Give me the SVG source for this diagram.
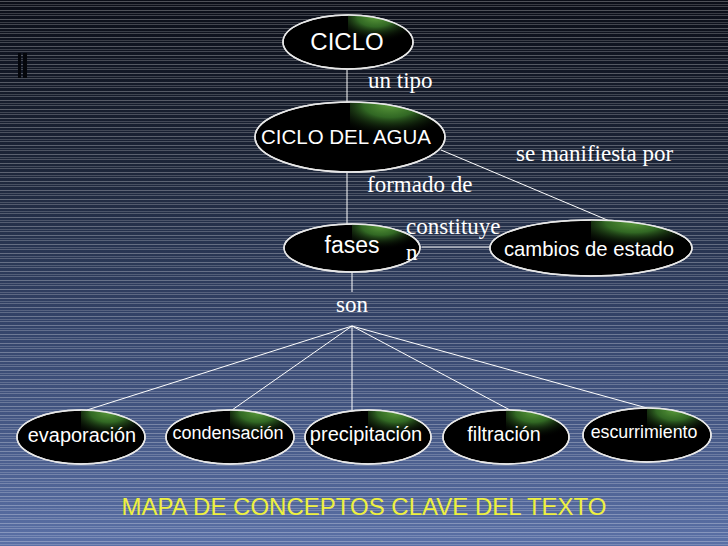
<svg xmlns="http://www.w3.org/2000/svg" width="728" height="546" viewBox="0 0 728 546">
<defs>
<linearGradient id="bg" x1="0" y1="0" x2="0" y2="1">
<stop offset="0" stop-color="#0b0e18"/>
<stop offset="0.3" stop-color="#1c2538"/>
<stop offset="0.6" stop-color="#34446a"/>
<stop offset="1" stop-color="#5a70a6"/>
</linearGradient>
<pattern id="stripes" x="0" y="0" width="728" height="9" patternUnits="userSpaceOnUse">
<rect x="0" y="1" width="728" height="1" fill="#ffffff" opacity="0.28"/>
<rect x="0" y="4" width="728" height="1" fill="#ffffff" opacity="0.18"/>
<rect x="0" y="6" width="728" height="1" fill="#ffffff" opacity="0.22"/>
</pattern>
<radialGradient id="glow" cx="0.45" cy="0.05" r="0.75">
<stop offset="0" stop-color="#5c9c3c"/>
<stop offset="0.4" stop-color="#3a7a2a" stop-opacity="0.85"/>
<stop offset="1" stop-color="#000000" stop-opacity="0"/>
</radialGradient>
<marker id="arr" markerWidth="8" markerHeight="8" refX="1" refY="4" orient="auto" markerUnits="userSpaceOnUse">
<path d="M8,1 L1,4 L8,7 Z" fill="#ffffff"/>
</marker>
<style>
.node{fill:#000000;stroke:#e8e8e8;stroke-width:1.5}
.nt{font-family:"Liberation Sans",Arial,sans-serif;fill:#ffffff;text-anchor:middle}
.lbl{font-family:"Liberation Serif","Times New Roman",serif;fill:#ffffff;font-size:23px}
.con{stroke:#ffffff;stroke-width:1;fill:none}
</style>
</defs>
<rect width="728" height="546" fill="url(#bg)"/>
<rect width="728" height="546" fill="url(#stripes)"/>
<rect x="18" y="53" width="3" height="25" fill="#05070c"/>
<rect x="23" y="53" width="4" height="25" fill="#05070c"/>

<g id="connectors">
<line class="con" x1="347" y1="70" x2="347" y2="103"/>
<line class="con" x1="347" y1="172" x2="347" y2="225"/>
<line class="con" x1="441" y1="150" x2="612" y2="222"/>
<line class="con" x1="490" y1="247" x2="422" y2="247" marker-end="url(#arr)"/>
<line class="con" x1="352" y1="272" x2="352" y2="292"/>
<line class="con" x1="352" y1="326" x2="87" y2="410"/>
<line class="con" x1="352" y1="326" x2="232" y2="410"/>
<line class="con" x1="352" y1="326" x2="352" y2="410"/>
<line class="con" x1="352" y1="326" x2="510" y2="410"/>
<line class="con" x1="352" y1="326" x2="647" y2="408"/>
</g>

<g id="n-ciclo">
<ellipse class="node" cx="348" cy="42" rx="65" ry="27"/>
<clipPath id="c1"><ellipse cx="348" cy="42" rx="65" ry="27"/></clipPath>
<rect x="348" y="15" width="62" height="34" fill="url(#glow)" clip-path="url(#c1)"/>
<ellipse cx="348" cy="42" rx="65" ry="27" fill="none" stroke="#e8e8e8" stroke-width="1.5"/>
<text class="nt" x="347" y="50" font-size="24">CICLO</text>
</g>

<g id="n-ciclo-agua">
<ellipse class="node" cx="350" cy="137" rx="95" ry="35"/>
<clipPath id="c2"><ellipse cx="350" cy="137" rx="95" ry="35"/></clipPath>
<rect x="350" y="102" width="90" height="44" fill="url(#glow)" clip-path="url(#c2)"/>
<ellipse cx="350" cy="137" rx="95" ry="35" fill="none" stroke="#e8e8e8" stroke-width="1.5"/>
<text class="nt" x="346" y="144" font-size="20.5">CICLO DEL AGUA</text>
</g>

<g id="n-fases">
<ellipse class="node" cx="352" cy="248" rx="68" ry="24"/>
<clipPath id="c3"><ellipse cx="352" cy="248" rx="68" ry="24"/></clipPath>
<rect x="352" y="224" width="64" height="32" fill="url(#glow)" clip-path="url(#c3)"/>
<ellipse cx="352" cy="248" rx="68" ry="24" fill="none" stroke="#e8e8e8" stroke-width="1.5"/>
<text class="nt" x="352" y="253" font-size="23">fases</text>
</g>

<g id="n-cambios">
<ellipse class="node" cx="591" cy="248" rx="101" ry="28"/>
<clipPath id="c4"><ellipse cx="591" cy="248" rx="101" ry="28"/></clipPath>
<rect x="591" y="220" width="96" height="36" fill="url(#glow)" clip-path="url(#c4)"/>
<ellipse cx="591" cy="248" rx="101" ry="28" fill="none" stroke="#e8e8e8" stroke-width="1.5"/>
<text class="nt" x="589" y="256" font-size="20.3">cambios de estado</text>
</g>

<g id="n-evaporacion">
<ellipse class="node" cx="81" cy="437" rx="64" ry="27"/>
<clipPath id="c5"><ellipse cx="81" cy="437" rx="64" ry="27"/></clipPath>
<rect x="81" y="410" width="62" height="35" fill="url(#glow)" clip-path="url(#c5)"/>
<ellipse cx="81" cy="437" rx="64" ry="27" fill="none" stroke="#e8e8e8" stroke-width="1.5"/>
<text class="nt" x="82" y="442" font-size="19.9">evaporación</text>
</g>

<g id="n-condensacion">
<ellipse class="node" cx="230" cy="437" rx="64" ry="27"/>
<clipPath id="c6"><ellipse cx="230" cy="437" rx="64" ry="27"/></clipPath>
<rect x="230" y="410" width="62" height="35" fill="url(#glow)" clip-path="url(#c6)"/>
<ellipse cx="230" cy="437" rx="64" ry="27" fill="none" stroke="#e8e8e8" stroke-width="1.5"/>
<text class="nt" x="228" y="439" font-size="18">condensación</text>
</g>

<g id="n-precipitacion">
<ellipse class="node" cx="368" cy="437" rx="63" ry="27"/>
<clipPath id="c7"><ellipse cx="368" cy="437" rx="63" ry="27"/></clipPath>
<rect x="368" y="410" width="62" height="35" fill="url(#glow)" clip-path="url(#c7)"/>
<ellipse cx="368" cy="437" rx="63" ry="27" fill="none" stroke="#e8e8e8" stroke-width="1.5"/>
<text class="nt" x="366" y="441" font-size="20">precipitación</text>
</g>

<g id="n-filtracion">
<ellipse class="node" cx="506" cy="437" rx="63" ry="27"/>
<clipPath id="c8"><ellipse cx="506" cy="437" rx="63" ry="27"/></clipPath>
<rect x="506" y="410" width="62" height="35" fill="url(#glow)" clip-path="url(#c8)"/>
<ellipse cx="506" cy="437" rx="63" ry="27" fill="none" stroke="#e8e8e8" stroke-width="1.5"/>
<text class="nt" x="504" y="441" font-size="19.7">filtración</text>
</g>

<g id="n-escurrimiento">
<ellipse class="node" cx="647" cy="435" rx="64" ry="27"/>
<clipPath id="c9"><ellipse cx="647" cy="435" rx="64" ry="27"/></clipPath>
<rect x="647" y="408" width="62" height="35" fill="url(#glow)" clip-path="url(#c9)"/>
<ellipse cx="647" cy="435" rx="64" ry="27" fill="none" stroke="#e8e8e8" stroke-width="1.5"/>
<text class="nt" x="644" y="438" font-size="17.8">escurrimiento</text>
</g>

<g id="labels">
<text class="lbl" x="368" y="88">un tipo</text>
<text class="lbl" x="516" y="161">se manifiesta por</text>
<text class="lbl" x="367" y="192">formado de</text>
<text class="lbl" x="406" y="234">constituye</text>
<text class="lbl" x="406" y="260">n</text>
<text class="lbl" x="336" y="312">son</text>
</g>

<text x="364" y="515" font-family="Liberation Sans,Arial,sans-serif" font-size="24" fill="#eef040" text-anchor="middle">MAPA DE CONCEPTOS CLAVE DEL TEXTO</text>
</svg>
